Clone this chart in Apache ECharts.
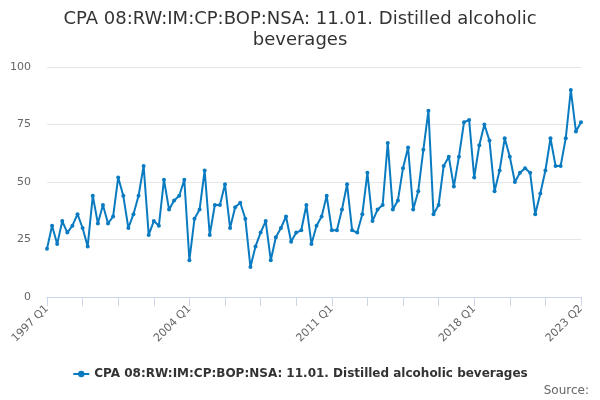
<!DOCTYPE html>
<html>
<head>
<meta charset="utf-8">
<script src="https://cdn.jsdelivr.net/npm/echarts@6/dist/echarts.min.js"></script>
<style>
html, body { margin: 0; padding: 0; background: #fff; }
#main { width: 600px; height: 400px; }
</style>
</head>
<body>
<div id="main"></div>
<script>
var myChart = echarts.init(document.getElementById('main'));

var seriesName = 'CPA 08:RW:IM:CP:BOP:NSA: 11.01. Distilled alcoholic beverages';
var firstYear = 1997;

// quarterly values, 1997 Q1 .. 2023 Q2
var values = [
    21, 31, 23, 33, 28, 31, 36, 30, 22, 44, 32, 40, 32, 35, 52, 44,
    30, 36, 44, 57, 27, 33, 31, 51, 38, 42, 44, 51, 16, 34, 38, 55,
    27, 40, 40, 49, 30, 39, 41, 34, 13, 22, 28, 33, 16, 26, 30, 35,
    24, 28, 29, 40, 23, 31, 35, 44, 29, 29, 38, 49, 29, 28, 36, 54,
    33, 38, 40, 67, 38, 42, 56, 65, 38, 46, 64, 81, 36, 40, 57, 61,
    48, 61, 76, 77, 52, 66, 75, 68, 46, 55, 69, 61, 50, 54, 56, 54,
    36, 45, 55, 69, 57, 57, 69, 90, 72, 76
];

var quarters = [];
for (var i = 0; i < values.length; i++) {
    quarters.push((firstYear + Math.floor(i / 4)) + ' Q' + (i % 4 + 1));
}
var lastIdx = quarters.length - 1;

var yTicks = [0, 25, 50, 75, 100];

option = {
    animation: false,
    title: {
        text: 'CPA 08:RW:IM:CP:BOP:NSA: 11.01. Distilled alcoholic\nbeverages',
        left: 'center',
        top: 4,
        textStyle: {
            fontFamily: 'DejaVu Sans',
            fontSize: 18,
            fontWeight: 'normal',
            color: '#333333',
            lineHeight: 21
        }
    },
    grid: {
        left: 47,
        right: 19,
        top: 67,
        bottom: 103
    },
    xAxis: {
        type: 'category',
        data: quarters,
        boundaryGap: false,
        axisLine: {
            lineStyle: { color: '#ccd6eb' }
        },
        axisTick: {
            alignWithLabel: true,
            interval: function (idx) { return idx % 7 === 0; },
            length: 9,
            lineStyle: { color: '#ccd6eb' }
        },
        axisLabel: {
            interval: function (idx) { return idx % 28 === 0 || idx === lastIdx; },
            rotate: 45,
            margin: 10,
            fontFamily: 'DejaVu Sans',
            fontSize: 11,
            color: '#666666'
        },
        splitLine: { show: false }
    },
    yAxis: {
        type: 'value',
        min: yTicks[0],
        max: yTicks[yTicks.length - 1],
        interval: 25,
        axisLine: { show: false },
        axisTick: { show: false },
        axisLabel: {
            margin: 16,
            fontFamily: 'DejaVu Sans',
            fontSize: 11,
            color: '#666666'
        },
        splitLine: {
            lineStyle: { color: '#e6e6e6' }
        }
    },
    legend: {
        bottom: 15,
        left: 'center',
        itemWidth: 16,
        itemHeight: 8,
        itemGap: 8,
        textStyle: {
            fontFamily: 'DejaVu Sans',
            fontSize: 12,
            fontWeight: 'bold',
            color: '#333333'
        },
        data: [seriesName]
    },
    graphic: [{
        type: 'text',
        right: 11,
        bottom: 3,
        style: {
            text: 'Source:',
            fontFamily: 'DejaVu Sans',
            fontSize: 12,
            fill: '#666666'
        }
    }],
    series: [{
        name: seriesName,
        type: 'line',
        data: values,
        symbol: 'circle',
        symbolSize: 4,
        showAllSymbol: true,
        lineStyle: { color: '#0a7bc1', width: 2 },
        itemStyle: { color: '#0a7bc1' }
    }]
};

myChart.setOption(option);
</script>
</body>
</html>
